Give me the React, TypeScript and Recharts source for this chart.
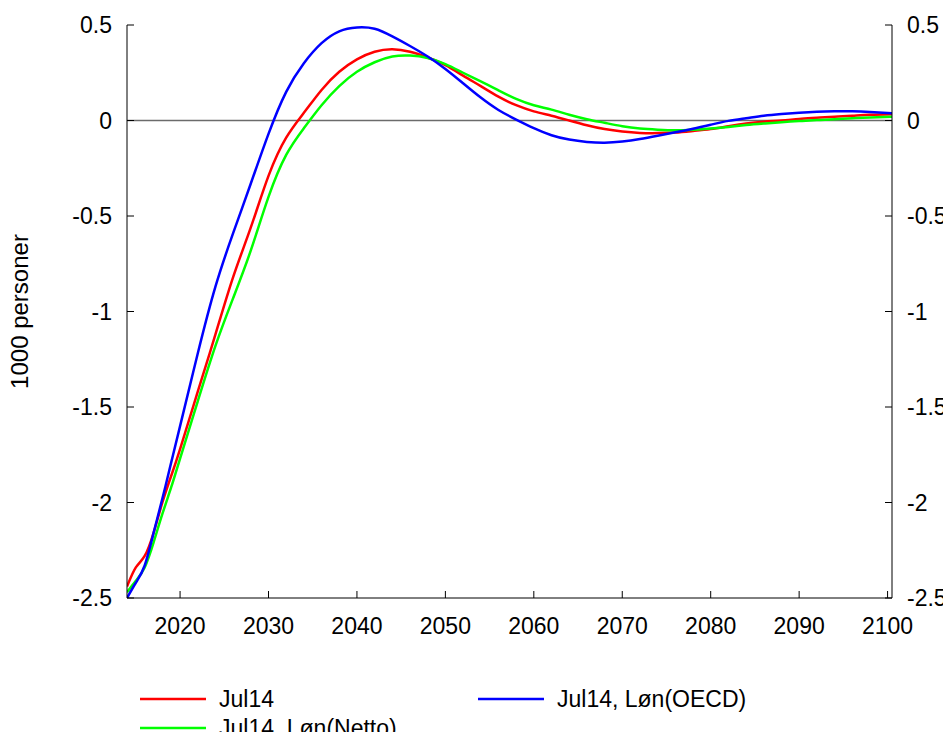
import {
  Label,
  Legend,
  Line,
  LineChart,
  ReferenceLine,
  XAxis,
  YAxis,
} from "recharts"

const years = [
  2014, 2015, 2016, 2017, 2018, 2019, 2020, 2022, 2024, 2026, 2028, 2030, 2032,
  2034, 2036, 2038, 2040, 2042, 2044, 2046, 2048, 2050, 2052, 2054, 2056, 2058,
  2060, 2062, 2064, 2066, 2068, 2070, 2072, 2074, 2076, 2078, 2080, 2082, 2084,
  2086, 2088, 2090, 2092, 2094, 2096, 2098, 2100.5,
]

const jul14 = [
  -2.44, -2.34, -2.28, -2.16, -2.0, -1.86, -1.72, -1.42, -1.12, -0.82, -0.56,
  -0.29, -0.09, 0.04, 0.16, 0.255, 0.32, 0.36, 0.373, 0.36, 0.33, 0.29, 0.235,
  0.18, 0.125, 0.08, 0.048, 0.025, 0.0, -0.025, -0.045, -0.058, -0.065, -0.066,
  -0.063, -0.055, -0.045, -0.03, -0.016, -0.006, 0.0, 0.008, 0.014, 0.02,
  0.025, 0.03, 0.033,
]

const jul14Netto = [
  -2.47, -2.41, -2.34, -2.21, -2.06, -1.92, -1.77, -1.47, -1.18, -0.93, -0.68,
  -0.4, -0.18, -0.04, 0.08, 0.18, 0.255, 0.305, 0.335, 0.34, 0.327, 0.295,
  0.25, 0.205, 0.158, 0.113, 0.08, 0.057, 0.03, 0.007, -0.012, -0.03, -0.042,
  -0.048, -0.051, -0.048, -0.042, -0.034, -0.024, -0.016, -0.009, -0.003,
  0.002, 0.007, 0.012, 0.016, 0.02,
]

const jul14Oecd = [
  -2.5, -2.42, -2.33, -2.16, -1.98, -1.79, -1.6, -1.22, -0.87, -0.59, -0.33,
  -0.07, 0.15, 0.3, 0.405, 0.467, 0.487, 0.48, 0.44, 0.39, 0.335, 0.27, 0.195,
  0.12, 0.055, 0.005, -0.04, -0.077, -0.1, -0.112, -0.116, -0.11, -0.097,
  -0.08, -0.062, -0.043, -0.022, -0.002, 0.012, 0.025, 0.034, 0.041, 0.046,
  0.048, 0.048, 0.045, 0.038,
]

const xTicks = [2020, 2030, 2040, 2050, 2060, 2070, 2080, 2090, 2100]
const yTicks = [-2.5, -2, -1.5, -1, -0.5, 0, 0.5]

const chartData = years.map((year, i) => ({
  year,
  jul14: jul14[i],
  netto: jul14Netto[i],
  oecd: jul14Oecd[i],
}))

const FONT = "'Liberation Sans', Arial, Helvetica, sans-serif"
const tickStyle = { fontSize: 23, fill: "#000", fontFamily: FONT }

// gnuplot-style key: two columns, filled column first
function KeyBox({ payload }: { payload?: any[] }) {
  return (
    <svg width={951} height={52} style={{ display: "block", overflow: "visible" }}>
      {(payload ?? []).map((item, i) => {
        const col = Math.floor(i / 2)
        const row = i % 2
        const x = col === 0 ? 140 : 478
        const y = 13 + row * 29
        return (
          <g key={item.value}>
            <line x1={x} x2={x + 66} y1={y} y2={y} stroke={item.color} strokeWidth={2.5} />
            <text
              x={x + 79}
              y={y}
              dy="0.34em"
              fontSize={23}
              fontFamily={FONT}
              fill="#000"
            >
              {item.value}
            </text>
          </g>
        )
      })}
    </svg>
  )
}

export default function App() {
  return (
    <div style={{ margin: -8, width: 951, height: 740, background: "#fff" }}>
      <LineChart
        width={951}
        height={740}
        data={chartData}
        margin={{ top: 25, right: 0, bottom: 82, left: 0 }}
      >
        <XAxis
          xAxisId="top"
          orientation="top"
          dataKey="year"
          type="number"
          domain={[2014, 2100.5]}
          ticks={xTicks}
          height={0}
          tick={false}
          tickSize={-7}
          stroke="#000"
          allowDataOverflow
        />
        <XAxis
          dataKey="year"
          type="number"
          domain={[2014, 2100.5]}
          ticks={xTicks}
          height={60}
          tickSize={-7}
          tickMargin={27}
          tick={tickStyle}
          stroke="#000"
          allowDataOverflow
        />
        <YAxis
          domain={[-2.5, 0.5]}
          ticks={yTicks}
          width={127}
          tickSize={-7}
          tickMargin={22}
          tick={tickStyle}
          stroke="#000"
          allowDataOverflow
        >
          <Label
            content={({ viewBox }: any) => {
              const cx = viewBox.x + 19
              const cy = viewBox.y + viewBox.height / 2
              return (
                <text
                  x={cx}
                  y={cy}
                  transform={`rotate(-90, ${cx}, ${cy})`}
                  textAnchor="middle"
                  dy="0.36em"
                  fontSize={24}
                  fontFamily={FONT}
                  fill="#000"
                >
                  1000 personer
                </text>
              )
            }}
          />
        </YAxis>
        <YAxis
          yAxisId="right"
          orientation="right"
          domain={[-2.5, 0.5]}
          ticks={yTicks}
          width={59}
          tickSize={-7}
          tickMargin={22}
          tick={{ ...tickStyle, textAnchor: "start" }}
          stroke="#000"
          allowDataOverflow
        />
        <ReferenceLine y={0} stroke="#6b6b6b" strokeWidth={1.5} />
        <Line
          dataKey="jul14"
          name="Jul14"
          type="natural"
          stroke="#ff0000"
          strokeWidth={2.5}
          dot={false}
          isAnimationActive={false}
        />
        <Line
          dataKey="netto"
          name="Jul14, Løn(Netto)"
          type="natural"
          stroke="#00ff00"
          strokeWidth={2.5}
          dot={false}
          isAnimationActive={false}
        />
        <Line
          dataKey="oecd"
          name="Jul14, Løn(OECD)"
          type="natural"
          stroke="#0000ff"
          strokeWidth={2.5}
          dot={false}
          isAnimationActive={false}
        />
        <Legend
          layout="vertical"
          align="center"
          verticalAlign="middle"
          content={<KeyBox />}
          wrapperStyle={{ position: "absolute", left: 0, top: 686, width: 951, height: 52 }}
        />
      </LineChart>
    </div>
  )
}
